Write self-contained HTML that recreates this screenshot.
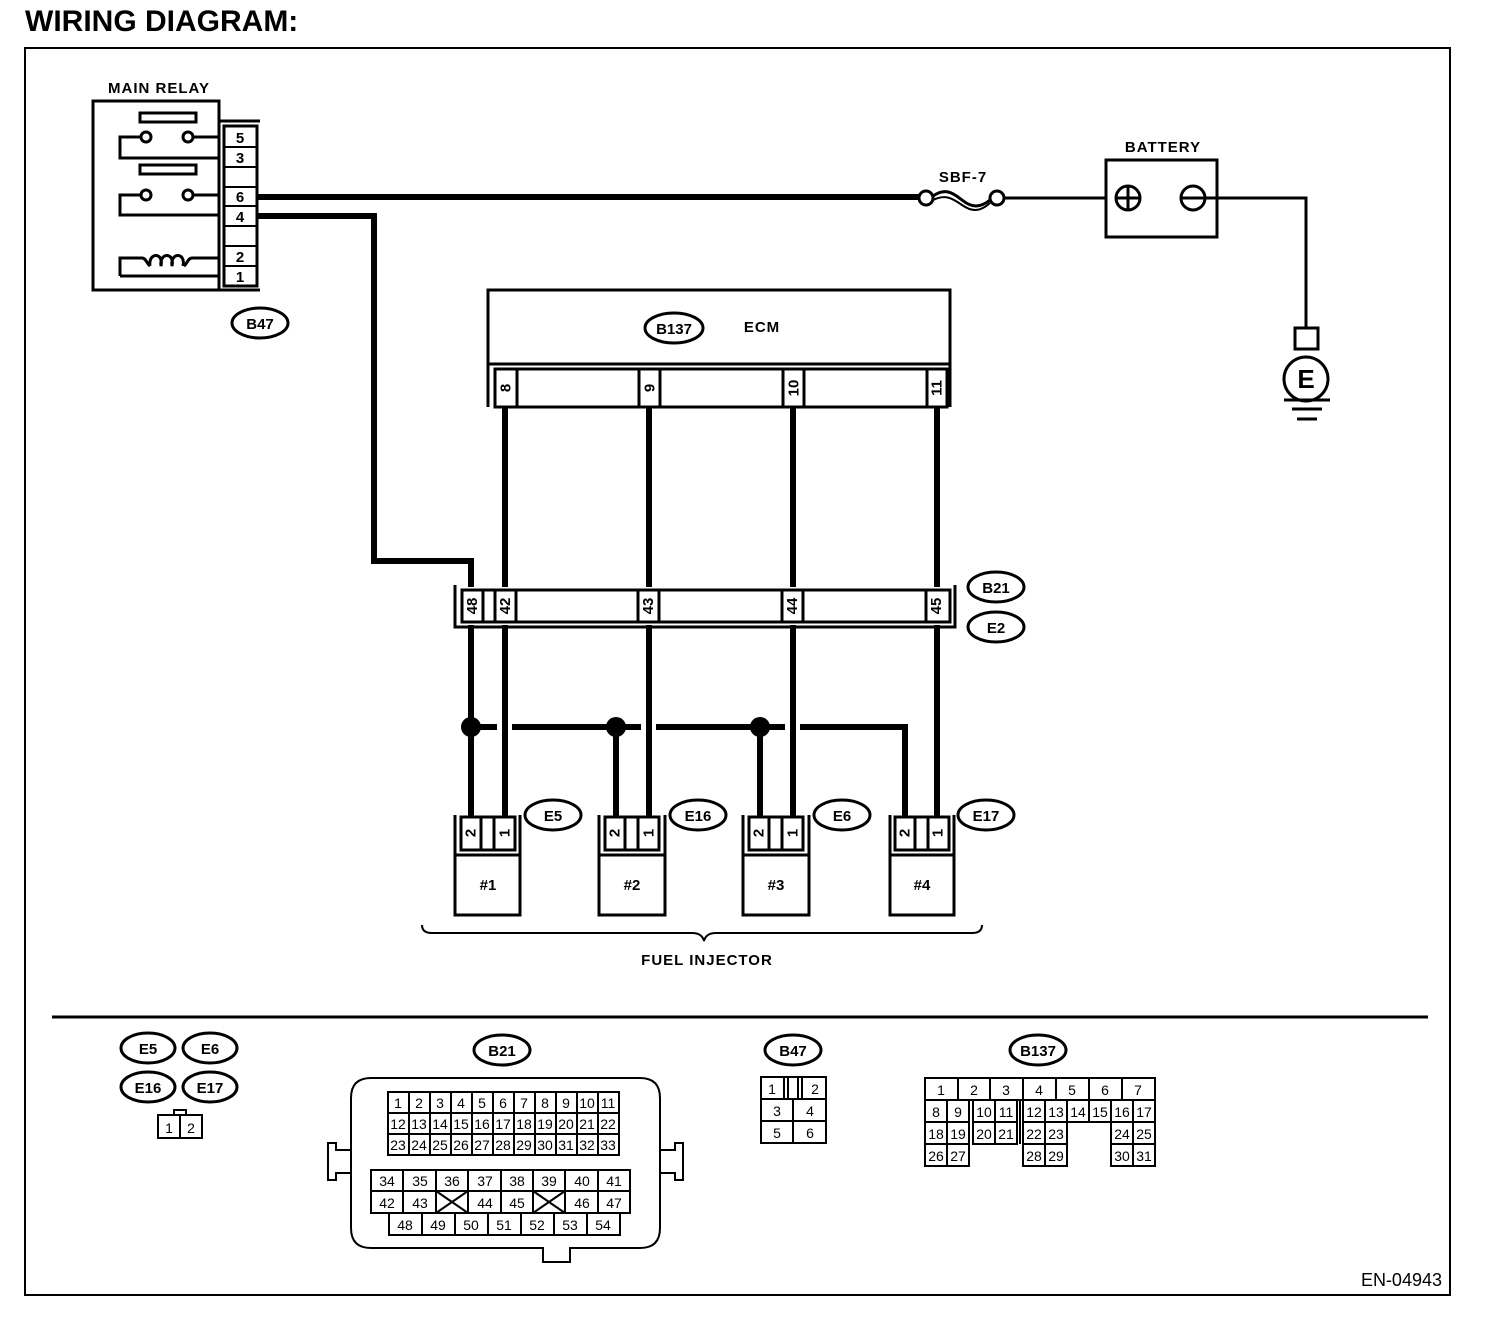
<!DOCTYPE html>
<html><head><meta charset="utf-8"><style>
html,body{margin:0;padding:0;background:#fff}
svg{display:block}
text{font-family:"Liberation Sans",sans-serif;fill:#000}
.b{font-weight:bold}
.lab{font-size:15px;font-weight:bold;letter-spacing:1px}
.n{font-size:15px;text-anchor:middle}
.s{font-size:14px;text-anchor:middle}
.r{font-size:15px;font-weight:bold;text-anchor:middle;dominant-baseline:central}
</style></head><body>
<svg width="1504" height="1320" viewBox="0 0 1504 1320" xmlns="http://www.w3.org/2000/svg">
<text x="25" y="31" class="b" style="font-size:30px">WIRING DIAGRAM:</text>
<rect x="25" y="48" width="1425" height="1247" fill="none" stroke="#000" stroke-width="2"/>

<g fill="none" stroke="#000" stroke-width="3">
<rect x="93" y="101" width="126" height="189"/>
<rect x="140" y="113" width="56" height="9"/>
<rect x="140" y="165" width="56" height="9"/>
<circle cx="146" cy="137" r="5"/><circle cx="188" cy="137" r="5"/>
<circle cx="146" cy="195" r="5"/><circle cx="188" cy="195" r="5"/>
<polyline points="141,137 120,137 120,158 218,158"/>
<line x1="193" y1="137" x2="218" y2="137"/>
<polyline points="141,195 120,195 120,215 218,215"/>
<line x1="193" y1="195" x2="218" y2="195"/>
<path d="M218,258 H192 C188,258 187,264 184,266 M120,276 V258 H142 C146,258 147,264 150,266 M218,276 H120"/>
<path d="M150,266 c-2,-14 14,-14 11,0 c-2,-14 14,-14 11,0 c-2,-14 14,-14 11,0"/>
<polyline points="219,121 260,121"/><polyline points="219,290 260,290"/>
<rect x="224" y="126" width="33" height="160"/>
</g>
<g stroke="#000" stroke-width="2">
<line x1="224" y1="147" x2="257" y2="147"/><line x1="224" y1="167" x2="257" y2="167"/>
<line x1="224" y1="187" x2="257" y2="187"/><line x1="224" y1="206" x2="257" y2="206"/>
<line x1="224" y1="226" x2="257" y2="226"/><line x1="224" y1="246" x2="257" y2="246"/>
<line x1="224" y1="266" x2="257" y2="266"/>
</g>
<text x="159" y="93" class="lab" text-anchor="middle">MAIN RELAY</text>
<text x="240" y="143" class="n b">5</text><text x="240" y="163" class="n b">3</text><text x="240" y="202" class="n b">6</text><text x="240" y="222" class="n b">4</text><text x="240" y="262" class="n b">2</text><text x="240" y="282" class="n b">1</text>
<ellipse cx="260" cy="323" rx="28" ry="15" fill="none" stroke="#000" stroke-width="3"/>
<text x="260" y="329" class="n b">B47</text>

<g fill="none" stroke="#000" stroke-width="6">
<line x1="257" y1="197" x2="920" y2="197"/>
<polyline points="257,216 374,216 374,561 471,561 471,587"/>
<line x1="505" y1="407" x2="505" y2="587"/>
<line x1="649" y1="407" x2="649" y2="587"/>
<line x1="793" y1="407" x2="793" y2="587"/>
<line x1="937" y1="407" x2="937" y2="587"/>
<line x1="471" y1="625" x2="471" y2="817"/>
<line x1="505" y1="625" x2="505" y2="817"/>
<line x1="649" y1="625" x2="649" y2="817"/>
<line x1="793" y1="625" x2="793" y2="817"/>
<line x1="937" y1="625" x2="937" y2="817"/>
<line x1="471" y1="727" x2="497" y2="727"/>
<line x1="512" y1="727" x2="641" y2="727"/>
<line x1="656" y1="727" x2="785" y2="727"/>
<polyline points="800,727 905,727 905,817"/>
<line x1="616" y1="727" x2="616" y2="817"/>
<line x1="760" y1="727" x2="760" y2="817"/>
</g>
<circle cx="471" cy="727" r="10"/><circle cx="616" cy="727" r="10"/><circle cx="760" cy="727" r="10"/>

<g fill="none" stroke="#000" stroke-width="3">
<circle cx="926" cy="198" r="7" fill="#fff"/><circle cx="997" cy="198" r="7" fill="#fff"/>
<path d="M933,196 C945,188 952,192 962,200 C972,208 980,208 990,200"/>
<path d="M933,200 C945,194 952,198 962,205 C972,212 980,212 990,203" stroke-width="2"/>
<line x1="1004" y1="198" x2="1106" y2="198"/>
<rect x="1106" y="160" width="111" height="77"/>
<circle cx="1128" cy="198" r="12"/><line x1="1116" y1="198" x2="1140" y2="198"/><line x1="1128" y1="186" x2="1128" y2="210"/>
<circle cx="1193" cy="198" r="12"/>
<polyline points="1181,198 1306,198 1306,328"/>
<rect x="1295" y="328" width="23" height="21"/>
<circle cx="1306" cy="379" r="22"/>
</g>
<g stroke="#000" stroke-width="3"><line x1="1284" y1="400" x2="1330" y2="400"/><line x1="1292" y1="409" x2="1322" y2="409"/><line x1="1297" y1="419" x2="1317" y2="419"/></g>
<text x="1306" y="388" class="b" text-anchor="middle" style="font-size:26px">E</text>
<text x="963" y="182" class="lab" text-anchor="middle">SBF-7</text>
<text x="1163" y="152" class="lab" text-anchor="middle">BATTERY</text>

<g fill="none" stroke="#000" stroke-width="3">
<rect x="488" y="290" width="462" height="74"/>
<polyline points="488,364 488,407"/><polyline points="950,364 950,407"/>
<rect x="495" y="369" width="452" height="38"/>
</g>
<g stroke="#000" stroke-width="3"><line x1="517" y1="369" x2="517" y2="407"/><line x1="639" y1="369" x2="639" y2="407"/><line x1="660" y1="369" x2="660" y2="407"/><line x1="783" y1="369" x2="783" y2="407"/><line x1="804" y1="369" x2="804" y2="407"/><line x1="927" y1="369" x2="927" y2="407"/></g>
<ellipse cx="674" cy="328" rx="29" ry="15" fill="none" stroke="#000" stroke-width="3"/>
<text x="674" y="334" class="n b">B137</text>
<text x="762" y="332" class="lab" text-anchor="middle">ECM</text>
<text transform="translate(506,388) rotate(-90)" class="r">8</text>
<text transform="translate(650,388) rotate(-90)" class="r">9</text>
<text transform="translate(794,388) rotate(-90)" class="r">10</text>
<text transform="translate(937,388) rotate(-90)" class="r">11</text>

<g fill="none" stroke="#000" stroke-width="3">
<polyline points="455,585 455,627 955,627 955,585"/>
<rect x="462" y="590" width="488" height="32" fill="#fff"/>
</g>
<g stroke="#000" stroke-width="3"><line x1="483" y1="590" x2="483" y2="622"/><line x1="495" y1="590" x2="495" y2="622"/><line x1="516" y1="590" x2="516" y2="622"/><line x1="638" y1="590" x2="638" y2="622"/><line x1="659" y1="590" x2="659" y2="622"/><line x1="782" y1="590" x2="782" y2="622"/><line x1="803" y1="590" x2="803" y2="622"/><line x1="926" y1="590" x2="926" y2="622"/></g>
<text transform="translate(472.5,606) rotate(-90)" class="r">48</text>
<text transform="translate(505.5,606) rotate(-90)" class="r">42</text>
<text transform="translate(648.5,606) rotate(-90)" class="r">43</text>
<text transform="translate(792.5,606) rotate(-90)" class="r">44</text>
<text transform="translate(936.5,606) rotate(-90)" class="r">45</text>
<ellipse cx="996" cy="587" rx="28" ry="15" fill="none" stroke="#000" stroke-width="3"/><text x="996" y="593" class="n b">B21</text>
<ellipse cx="996" cy="627" rx="28" ry="15" fill="none" stroke="#000" stroke-width="3"/><text x="996" y="633" class="n b">E2</text>

<g fill="none" stroke="#000" stroke-width="3">
<polyline points="455,815 455,915 520,915 520,815"/><line x1="455" y1="855" x2="520" y2="855"/><rect x="461" y="817" width="54" height="33"/><line x1="481" y1="817" x2="481" y2="850"/><line x1="494" y1="817" x2="494" y2="850"/>
<polyline points="599,815 599,915 665,915 665,815"/><line x1="599" y1="855" x2="665" y2="855"/><rect x="605" y="817" width="54" height="33"/><line x1="625" y1="817" x2="625" y2="850"/><line x1="638" y1="817" x2="638" y2="850"/>
<polyline points="743,815 743,915 809,915 809,815"/><line x1="743" y1="855" x2="809" y2="855"/><rect x="749" y="817" width="54" height="33"/><line x1="769" y1="817" x2="769" y2="850"/><line x1="782" y1="817" x2="782" y2="850"/>
<polyline points="890,815 890,915 954,915 954,815"/><line x1="890" y1="855" x2="954" y2="855"/><rect x="895" y="817" width="54" height="33"/><line x1="915" y1="817" x2="915" y2="850"/><line x1="928" y1="817" x2="928" y2="850"/>
<path d="M422,925 Q422,933 432,933 H692 Q702,933 704,941 Q706,933 716,933 H972 Q982,933 982,925" stroke-width="2"/>
</g>
<text transform="translate(471,833) rotate(-90)" class="r">2</text><text transform="translate(505,833) rotate(-90)" class="r">1</text>
<text transform="translate(615,833) rotate(-90)" class="r">2</text><text transform="translate(649,833) rotate(-90)" class="r">1</text>
<text transform="translate(759,833) rotate(-90)" class="r">2</text><text transform="translate(793,833) rotate(-90)" class="r">1</text>
<text transform="translate(905,833) rotate(-90)" class="r">2</text><text transform="translate(938,833) rotate(-90)" class="r">1</text>
<text x="488" y="890" class="n b">#1</text><text x="632" y="890" class="n b">#2</text><text x="776" y="890" class="n b">#3</text><text x="922" y="890" class="n b">#4</text>
<g fill="none" stroke="#000" stroke-width="3">
<ellipse cx="553" cy="815" rx="28" ry="15"/><ellipse cx="698" cy="815" rx="28" ry="15"/><ellipse cx="842" cy="815" rx="28" ry="15"/><ellipse cx="986" cy="815" rx="28" ry="15"/>
</g>
<text x="553" y="821" class="n b">E5</text><text x="698" y="821" class="n b">E16</text><text x="842" y="821" class="n b">E6</text><text x="986" y="821" class="n b">E17</text>
<text x="707" y="965" class="lab" text-anchor="middle">FUEL INJECTOR</text>

<line x1="52" y1="1017" x2="1428" y2="1017" stroke="#000" stroke-width="3"/>

<g fill="none" stroke="#000" stroke-width="3">
<ellipse cx="148" cy="1048" rx="27" ry="15"/><ellipse cx="210" cy="1048" rx="27" ry="15"/>
<ellipse cx="148" cy="1087" rx="27" ry="15"/><ellipse cx="210" cy="1087" rx="27" ry="15"/>
</g>
<text x="148" y="1054" class="n b">E5</text><text x="210" y="1054" class="n b">E6</text><text x="148" y="1093" class="n b">E16</text><text x="210" y="1093" class="n b">E17</text>
<g fill="none" stroke="#000" stroke-width="2"><rect x="174" y="1110" width="12" height="5"/><rect x="158" y="1115" width="44" height="23"/><line x1="180" y1="1115" x2="180" y2="1138"/></g>
<text x="169" y="1133" class="s">1</text><text x="191" y="1133" class="s">2</text>

<ellipse cx="502" cy="1050" rx="28" ry="15" fill="none" stroke="#000" stroke-width="3"/><text x="502" y="1056" class="n b">B21</text>
<g fill="none" stroke="#000" stroke-width="2">
<path d="M371,1078 H640 Q660,1078 660,1098 V1228 Q660,1248 640,1248 H570 V1262 H543 V1248 H371 Q351,1248 351,1228 V1098 Q351,1078 371,1078 Z"/>
<path d="M351,1150 H336 V1143 H328 V1180 H336 V1173 H351"/>
<path d="M660,1150 H675 V1143 H683 V1180 H675 V1173 H660"/>
<rect x="388" y="1092" width="231" height="63"/>
<line x1="388" y1="1113" x2="619" y2="1113"/><line x1="388" y1="1134" x2="619" y2="1134"/>
<line x1="409" y1="1092" x2="409" y2="1155"/><line x1="430" y1="1092" x2="430" y2="1155"/><line x1="451" y1="1092" x2="451" y2="1155"/><line x1="472" y1="1092" x2="472" y2="1155"/><line x1="493" y1="1092" x2="493" y2="1155"/><line x1="514" y1="1092" x2="514" y2="1155"/><line x1="535" y1="1092" x2="535" y2="1155"/><line x1="556" y1="1092" x2="556" y2="1155"/><line x1="577" y1="1092" x2="577" y2="1155"/><line x1="598" y1="1092" x2="598" y2="1155"/>
<rect x="371" y="1170" width="259" height="43"/><line x1="371" y1="1191" x2="630" y2="1191"/>
<line x1="403" y1="1170" x2="403" y2="1213"/><line x1="436" y1="1170" x2="436" y2="1213"/><line x1="468" y1="1170" x2="468" y2="1213"/><line x1="501" y1="1170" x2="501" y2="1213"/><line x1="533" y1="1170" x2="533" y2="1213"/><line x1="565" y1="1170" x2="565" y2="1213"/><line x1="598" y1="1170" x2="598" y2="1213"/>
<line x1="436" y1="1191" x2="468" y2="1213"/><line x1="468" y1="1191" x2="436" y2="1213"/>
<line x1="533" y1="1191" x2="565" y2="1213"/><line x1="565" y1="1191" x2="533" y2="1213"/>
<rect x="389" y="1213" width="231" height="22"/>
<line x1="422" y1="1213" x2="422" y2="1235"/><line x1="455" y1="1213" x2="455" y2="1235"/><line x1="488" y1="1213" x2="488" y2="1235"/><line x1="521" y1="1213" x2="521" y2="1235"/><line x1="554" y1="1213" x2="554" y2="1235"/><line x1="587" y1="1213" x2="587" y2="1235"/>
</g>
<g>
<text x="398" y="1108" class="s">1</text><text x="419" y="1108" class="s">2</text><text x="440" y="1108" class="s">3</text><text x="461" y="1108" class="s">4</text><text x="482" y="1108" class="s">5</text><text x="503" y="1108" class="s">6</text><text x="524" y="1108" class="s">7</text><text x="545" y="1108" class="s">8</text><text x="566" y="1108" class="s">9</text><text x="587" y="1108" class="s">10</text><text x="608" y="1108" class="s">11</text>
<text x="398" y="1129" class="s">12</text><text x="419" y="1129" class="s">13</text><text x="440" y="1129" class="s">14</text><text x="461" y="1129" class="s">15</text><text x="482" y="1129" class="s">16</text><text x="503" y="1129" class="s">17</text><text x="524" y="1129" class="s">18</text><text x="545" y="1129" class="s">19</text><text x="566" y="1129" class="s">20</text><text x="587" y="1129" class="s">21</text><text x="608" y="1129" class="s">22</text>
<text x="398" y="1150" class="s">23</text><text x="419" y="1150" class="s">24</text><text x="440" y="1150" class="s">25</text><text x="461" y="1150" class="s">26</text><text x="482" y="1150" class="s">27</text><text x="503" y="1150" class="s">28</text><text x="524" y="1150" class="s">29</text><text x="545" y="1150" class="s">30</text><text x="566" y="1150" class="s">31</text><text x="587" y="1150" class="s">32</text><text x="608" y="1150" class="s">33</text>
<text x="387" y="1186" class="s">34</text><text x="420" y="1186" class="s">35</text><text x="452" y="1186" class="s">36</text><text x="485" y="1186" class="s">37</text><text x="517" y="1186" class="s">38</text><text x="549" y="1186" class="s">39</text><text x="582" y="1186" class="s">40</text><text x="614" y="1186" class="s">41</text>
<text x="387" y="1208" class="s">42</text><text x="420" y="1208" class="s">43</text><text x="485" y="1208" class="s">44</text><text x="517" y="1208" class="s">45</text><text x="582" y="1208" class="s">46</text><text x="614" y="1208" class="s">47</text>
<text x="405" y="1230" class="s">48</text><text x="438" y="1230" class="s">49</text><text x="471" y="1230" class="s">50</text><text x="504" y="1230" class="s">51</text><text x="537" y="1230" class="s">52</text><text x="570" y="1230" class="s">53</text><text x="603" y="1230" class="s">54</text>
</g>

<ellipse cx="793" cy="1050" rx="28" ry="15" fill="none" stroke="#000" stroke-width="3"/><text x="793" y="1056" class="n b">B47</text>
<g fill="none" stroke="#000" stroke-width="2">
<rect x="761" y="1077" width="65" height="66"/>
<line x1="761" y1="1099" x2="826" y2="1099"/><line x1="761" y1="1121" x2="826" y2="1121"/>
<line x1="784" y1="1077" x2="784" y2="1099"/><line x1="788" y1="1077" x2="788" y2="1099"/><line x1="798" y1="1077" x2="798" y2="1099"/><line x1="802" y1="1077" x2="802" y2="1099"/>
<line x1="793" y1="1099" x2="793" y2="1143"/>
</g>
<text x="772" y="1094" class="s">1</text><text x="815" y="1094" class="s">2</text>
<text x="777" y="1116" class="s">3</text><text x="810" y="1116" class="s">4</text>
<text x="777" y="1138" class="s">5</text><text x="810" y="1138" class="s">6</text>

<ellipse cx="1038" cy="1050" rx="28" ry="15" fill="none" stroke="#000" stroke-width="3"/><text x="1038" y="1056" class="n b">B137</text>
<g fill="none" stroke="#000" stroke-width="2">
<rect x="925" y="1078" width="230" height="22"/>
<line x1="958" y1="1078" x2="958" y2="1100"/><line x1="990" y1="1078" x2="990" y2="1100"/><line x1="1023" y1="1078" x2="1023" y2="1100"/><line x1="1056" y1="1078" x2="1056" y2="1100"/><line x1="1089" y1="1078" x2="1089" y2="1100"/><line x1="1122" y1="1078" x2="1122" y2="1100"/>
<rect x="925" y="1100" width="44" height="66"/><line x1="947" y1="1100" x2="947" y2="1166"/><line x1="925" y1="1122" x2="969" y2="1122"/><line x1="925" y1="1144" x2="969" y2="1144"/>
<line x1="969" y1="1100" x2="969" y2="1144"/><line x1="973" y1="1100" x2="973" y2="1144"/>
<rect x="973" y="1100" width="44" height="44"/><line x1="995" y1="1100" x2="995" y2="1144"/><line x1="973" y1="1122" x2="1017" y2="1122"/>
<line x1="1020" y1="1100" x2="1020" y2="1144"/>
<rect x="1023" y="1100" width="44" height="66"/><line x1="1045" y1="1100" x2="1045" y2="1166"/><line x1="1023" y1="1122" x2="1067" y2="1122"/><line x1="1023" y1="1144" x2="1067" y2="1144"/>
<rect x="1067" y="1100" width="44" height="22"/><line x1="1089" y1="1100" x2="1089" y2="1122"/>
<rect x="1111" y="1100" width="44" height="66"/><line x1="1133" y1="1100" x2="1133" y2="1166"/><line x1="1111" y1="1122" x2="1155" y2="1122"/><line x1="1111" y1="1144" x2="1155" y2="1144"/>
</g>
<g>
<text x="941" y="1095" class="s">1</text><text x="974" y="1095" class="s">2</text><text x="1006" y="1095" class="s">3</text><text x="1039" y="1095" class="s">4</text><text x="1072" y="1095" class="s">5</text><text x="1105" y="1095" class="s">6</text><text x="1138" y="1095" class="s">7</text>
<text x="936" y="1117" class="s">8</text><text x="958" y="1117" class="s">9</text><text x="984" y="1117" class="s">10</text><text x="1006" y="1117" class="s">11</text><text x="1034" y="1117" class="s">12</text><text x="1056" y="1117" class="s">13</text><text x="1078" y="1117" class="s">14</text><text x="1100" y="1117" class="s">15</text><text x="1122" y="1117" class="s">16</text><text x="1144" y="1117" class="s">17</text>
<text x="936" y="1139" class="s">18</text><text x="958" y="1139" class="s">19</text><text x="984" y="1139" class="s">20</text><text x="1006" y="1139" class="s">21</text><text x="1034" y="1139" class="s">22</text><text x="1056" y="1139" class="s">23</text><text x="1122" y="1139" class="s">24</text><text x="1144" y="1139" class="s">25</text>
<text x="936" y="1161" class="s">26</text><text x="958" y="1161" class="s">27</text><text x="1034" y="1161" class="s">28</text><text x="1056" y="1161" class="s">29</text><text x="1122" y="1161" class="s">30</text><text x="1144" y="1161" class="s">31</text>
</g>

<text x="1442" y="1286" style="font-size:18px" text-anchor="end">EN-04943</text>
</svg>
</body></html>
